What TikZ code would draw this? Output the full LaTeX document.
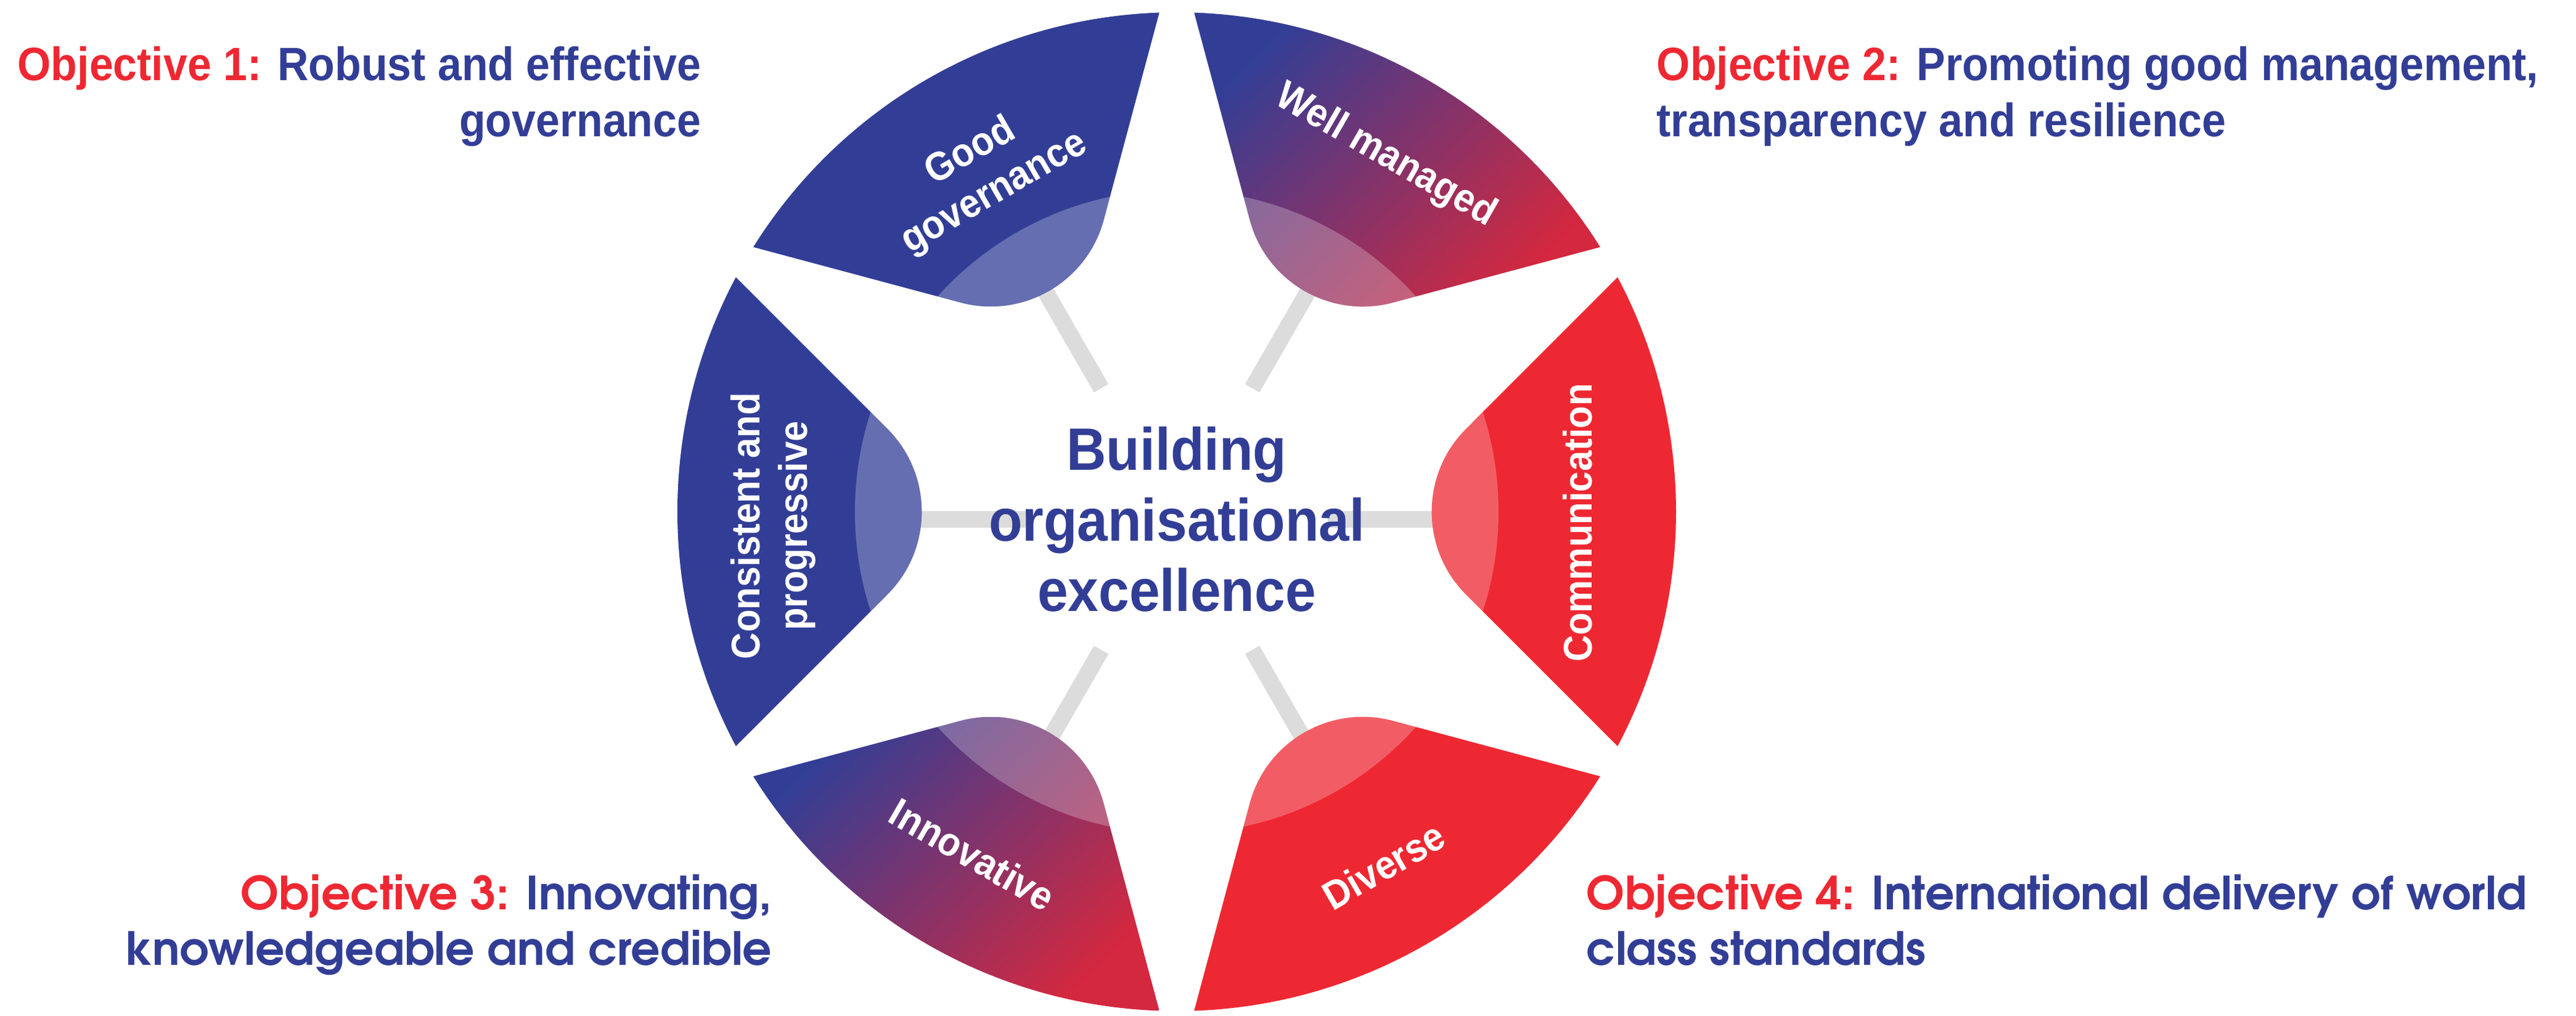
\documentclass[tikz,border=0pt]{standalone}
\usepackage{fontspec}
\usepackage{tikz}
\usetikzlibrary{positioning}
\setmainfont{Liberation Sans}
\newfontfamily\robfont[FakeStretch=0.92]{Liberation Sans}
\newfontfamily\gothfont[Extension=.otf]{texgyreadventor-bold}
\definecolor{navy}{RGB}{50,62,150}
\definecolor{scarlet}{RGB}{238,40,50}
\definecolor{crimson}{RGB}{212,40,62}
\definecolor{spokegray}{RGB}{220,220,220}
\tikzstyle{objective} = [
    text = navy,
    font = \robfont\bfseries\fontsize{21.6}{26}\selectfont,
    inner sep = 0pt
]
\tikzstyle{lowobjective} = [
    objective,
    font = \gothfont\fontsize{21.1}{26}\selectfont
]
\tikzstyle{core} = [
    text = navy,
    font = \robfont\bfseries\fontsize{27.6}{33}\selectfont,
    inner sep = 0pt
]
\tikzstyle{petaltext} = [
    text = white,
    font = \robfont\bfseries\fontsize{18.5}{21.9}\selectfont,
    align = center,
    inner sep = 0pt
]
\tikzstyle{spoke} = [
    draw = spokegray,
    line width = 0.27cm
]
\tikzstyle{glow} = [
    fill = white,
    fill opacity = 0.25
]
% one petal, pointing along the x axis
\newcommand{\petalpath}{(7.152,3.803) -- (4.693,1.343) arc[start angle=135, end angle=225, radius=1.9] -- (7.152,-3.803) arc[start angle=-28, end angle=28, radius=8.1] -- cycle}

\begin{document}
\begin{tikzpicture}

                \useasboundingbox [fill = white] (-19.09,8.30) rectangle (22.70,-8.18);

                % spokes
                \coordinate (hub) at (0,-0.12);
                \draw [spoke] (hub) ++(0:2.45) -- ++(0:2.2);
                \draw [spoke] (hub) ++(60:2.45) -- ++(60:2.2);
                \draw [spoke] (hub) ++(120:2.45) -- ++(120:2.2);
                \draw [spoke] (hub) ++(180:2.45) -- ++(180:2.2);
                \draw [spoke] (hub) ++(240:2.45) -- ++(240:2.2);
                \draw [spoke] (hub) ++(300:2.45) -- ++(300:2.2);

                % Communication
                \fill [scarlet, rotate = 0] \petalpath;
                \begin{scope}
                    \clip [rotate = 0] \petalpath;
                    \fill [glow] (0,0) circle (5.22);
                \end{scope}

                % Well managed
                \begin{scope}
                    \clip [rotate = 60] \petalpath;
                    \shade [left color = navy, right color = crimson, shading angle = 45] (0.28,8.1) rectangle (6.87,3.33);
                    \fill [glow] (0,0) circle (5.22);
                \end{scope}

                % Good governance
                \fill [navy, rotate = 120] \petalpath;
                \begin{scope}
                    \clip [rotate = 120] \petalpath;
                    \fill [glow] (0,0) circle (5.22);
                \end{scope}

                % Consistent and progressive
                \fill [navy, rotate = 180] \petalpath;
                \begin{scope}
                    \clip [rotate = 180] \petalpath;
                    \fill [glow] (0,0) circle (5.22);
                \end{scope}

                % Innovative
                \begin{scope}
                    \clip [rotate = 240] \petalpath;
                    \shade [left color = navy, right color = crimson, shading angle = 45] (-6.87,-3.33) rectangle (-0.28,-8.1);
                    \fill [glow] (0,0) circle (5.22);
                \end{scope}

                % Diverse
                \fill [scarlet, rotate = 300] \petalpath;
                \begin{scope}
                    \clip [rotate = 300] \petalpath;
                    \fill [glow] (0,0) circle (5.22);
                \end{scope}

                % petal labels
                \node [petaltext, rotate = 30] (goodGov) at (119.8:6.34) {Good\\governance};
                \node [petaltext, rotate = -30] (wellManaged) at (59.6:6.69) {Well managed};
                \node [petaltext, rotate = 90] (communication) at (6.50,-0.18) {Communication};
                \node [petaltext, rotate = 30] (diverse) at (-59.7:6.65) {Diverse};
                \node [petaltext, rotate = -30] (innovative) at (-120.8:6.47) {Innovative};
                \node [petaltext, rotate = 90] (consistent) at (-6.55,-0.23) {Consistent and\\progressive};

                % centre
                \node [core, anchor = base] (coreMid) at (0,-0.47) {organisational};
                \node [core, above = 1.15cm of coreMid.base, anchor = base] (coreTop) {Building};
                \node [core, below = 1.14cm of coreMid.base, anchor = base] (coreBot) {excellence};

                % Objective 1
                \node [objective, anchor = base east] (obj1) at (-7.71,6.99) {\textcolor{scarlet}{Objective 1:} Robust and effective};
                \node [objective, below = 0.91cm of obj1.base east, anchor = base east] (obj1b) {governance};

                % Objective 2
                \node [objective, anchor = base west] (obj2) at (7.78,6.99) {\textcolor{scarlet}{Objective 2:} Promoting good management,};
                \node [objective, below = 0.91cm of obj2.base west, anchor = base west] (obj2b) {transparency and resilience};

                % Objective 3
                \node [lowobjective, anchor = base east] (obj3) at (-6.56,-6.45) {\textcolor{scarlet}{Objective 3:} Innovating,};
                \node [lowobjective, below = 0.9cm of obj3.base east, anchor = base east] (obj3b) {knowledgeable and credible};

                % Objective 4
                \node [lowobjective, anchor = base west] (obj4) at (6.64,-6.45) {\textcolor{scarlet}{Objective 4:} International delivery of world};
                \node [lowobjective, below = 0.9cm of obj4.base west, anchor = base west] (obj4b) {class standards};

            \end{tikzpicture}
\end{document}
